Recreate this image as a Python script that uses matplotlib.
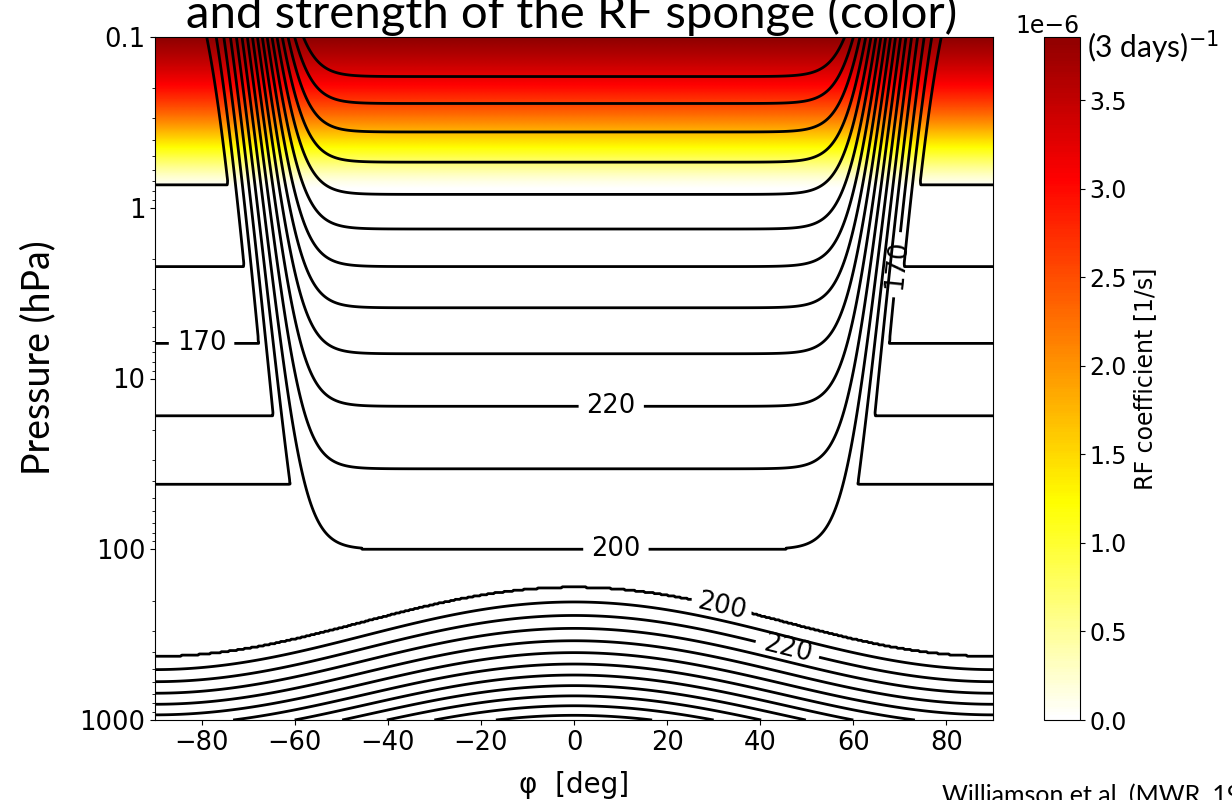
import numpy as np
import matplotlib
matplotlib.use("Agg")
import matplotlib.pyplot as plt
from matplotlib.colors import ListedColormap

# Held-Suarez troposphere
T0_HS = 315.0
DT_Y = 60.0
DTH_Z = 10.0
P0 = 1000.0
KAPPA = 2.0 / 7.0

# Williamson et al. stratosphere
T_T = 200.0
P_D = 100.0
GAMMA_D = 2.0e-3
T_V = 200.0
GAMMA_I = -3.33e-3
P_EQ = 100.0
P_PL = 0.1
PHI_0 = 60.0
A_PHI = 2.65 / 15.0
R_D = 287.04
GRAV = 9.80616

# Rayleigh friction sponge
K_MAX = 1.0 / (3 * 86400.0)
P_SPONGE = 0.8
P_TOP = 0.1
SPONGE_EXP = 1.7

levels = [150, 160, 170, 180, 190, 200, 210, 220, 230, 240,
          250, 260, 270, 280, 290, 300, 310]
label_levels = [170, 200, 220]
label_pos = [(-80, 6.15), (69.6, 2.16), (8, 14.5), (9, 100),
             (31.7, 227), (45.8, 389)]
xticks = [-80, -60, -40, -20, 0, 20, 40, 60, 80]
yticks = [0.1, 1, 10, 100, 1000]
ytick_labels = ["0.1", "1", "10", "100", "1000"]
cbar_ticks = [0.0, 0.5e-6, 1.0e-6, 1.5e-6, 2.0e-6, 2.5e-6, 3.0e-6, 3.5e-6]


def main():
    lat = np.linspace(-90, 90, 721)
    p = np.logspace(-1, 3, 601)
    LAT, P = np.meshgrid(lat, p)
    phi = np.deg2rad(LAT)

    # equilibrium temperature: max of HS troposphere and stratosphere profile
    t_hs = (T0_HS - DT_Y * np.sin(phi) ** 2
            - DTH_Z * np.log(P / P0) * np.cos(phi) ** 2) * (P / P0) ** KAPPA
    p_i = P_EQ - (P_EQ - P_PL) / 2 * (1 + np.tanh(A_PHI * (np.abs(LAT) - PHI_0)))
    t_st = (T_T * np.minimum(1, P / P_D) ** (R_D * GAMMA_D / GRAV)
            + T_V * (np.minimum(1, P / p_i) ** (R_D * GAMMA_I / GRAV) - 1))
    t_eq = np.maximum(t_hs, t_st)

    # sponge coefficient
    k_rf = K_MAX * np.clip((P_SPONGE - p) / (P_SPONGE - P_TOP), 0, 1) ** SPONGE_EXP
    K = np.repeat(k_rf[:, None], lat.size, axis=1)

    cmap = ListedColormap(plt.get_cmap("hot_r")(np.linspace(0, 0.8, 256)))

    fig = plt.figure(figsize=(12.32, 8), dpi=100)
    ax = fig.add_axes([155 / 1232, 80 / 800, 838 / 1232, 683 / 800])
    cax = fig.add_axes([1044 / 1232, 80 / 800, 36 / 1232, 683 / 800])

    pc = ax.pcolormesh(lat, p, K, cmap=cmap, vmin=0, vmax=K_MAX,
                       shading="gouraud", rasterized=True)
    plain = [lv for lv in levels if lv not in label_levels]
    ax.contour(lat, p, t_eq, levels=plain, colors="k", linewidths=2)
    cs = ax.contour(lat, p, t_eq, levels=label_levels, colors="k", linewidths=2)

    ax.set_yscale("log")
    ax.set_xlim(-90, 90)
    ax.set_ylim(1000, 0.1)
    ax.set_xticks(xticks)
    ax.set_yticks(yticks, ytick_labels)
    ax.tick_params(labelsize=18.5)
    ax.set_xlabel("φ  [deg]", fontsize=20, labelpad=11)
    ax.set_ylabel("Pressure (hPa)", fontsize=27, family="Lato")
    ax.yaxis.set_label_coords(-0.118, 0.53)

    ax.clabel(cs, manual=label_pos, fmt="%d", fontsize=18.5, inline_spacing=8)

    cb = fig.colorbar(pc, cax=cax, ticks=cbar_ticks)
    cb.set_label("RF coefficient [1/s]", fontsize=17)
    cb.ax.tick_params(labelsize=17)
    cb.ax.yaxis.get_offset_text().set_fontsize(17)

    fig.text(1087 / 1232, 1 - 47 / 800, "(3 days)$^{-1}$", fontsize=21.5,
             family="Lato", va="center", ha="left")
    fig.text(572 / 1232, 1 - 28 / 800, "and strength of the RF sponge (color)",
             fontsize=34, family="Lato", ha="center", va="baseline")
    fig.text(942 / 1232, -3 / 800, "Williamson et al. (MWR, 1998)",
             fontsize=18, family="Lato", ha="left", va="baseline")

    fig.savefig("out.png", dpi=100)


if __name__ == "__main__":
    main()
